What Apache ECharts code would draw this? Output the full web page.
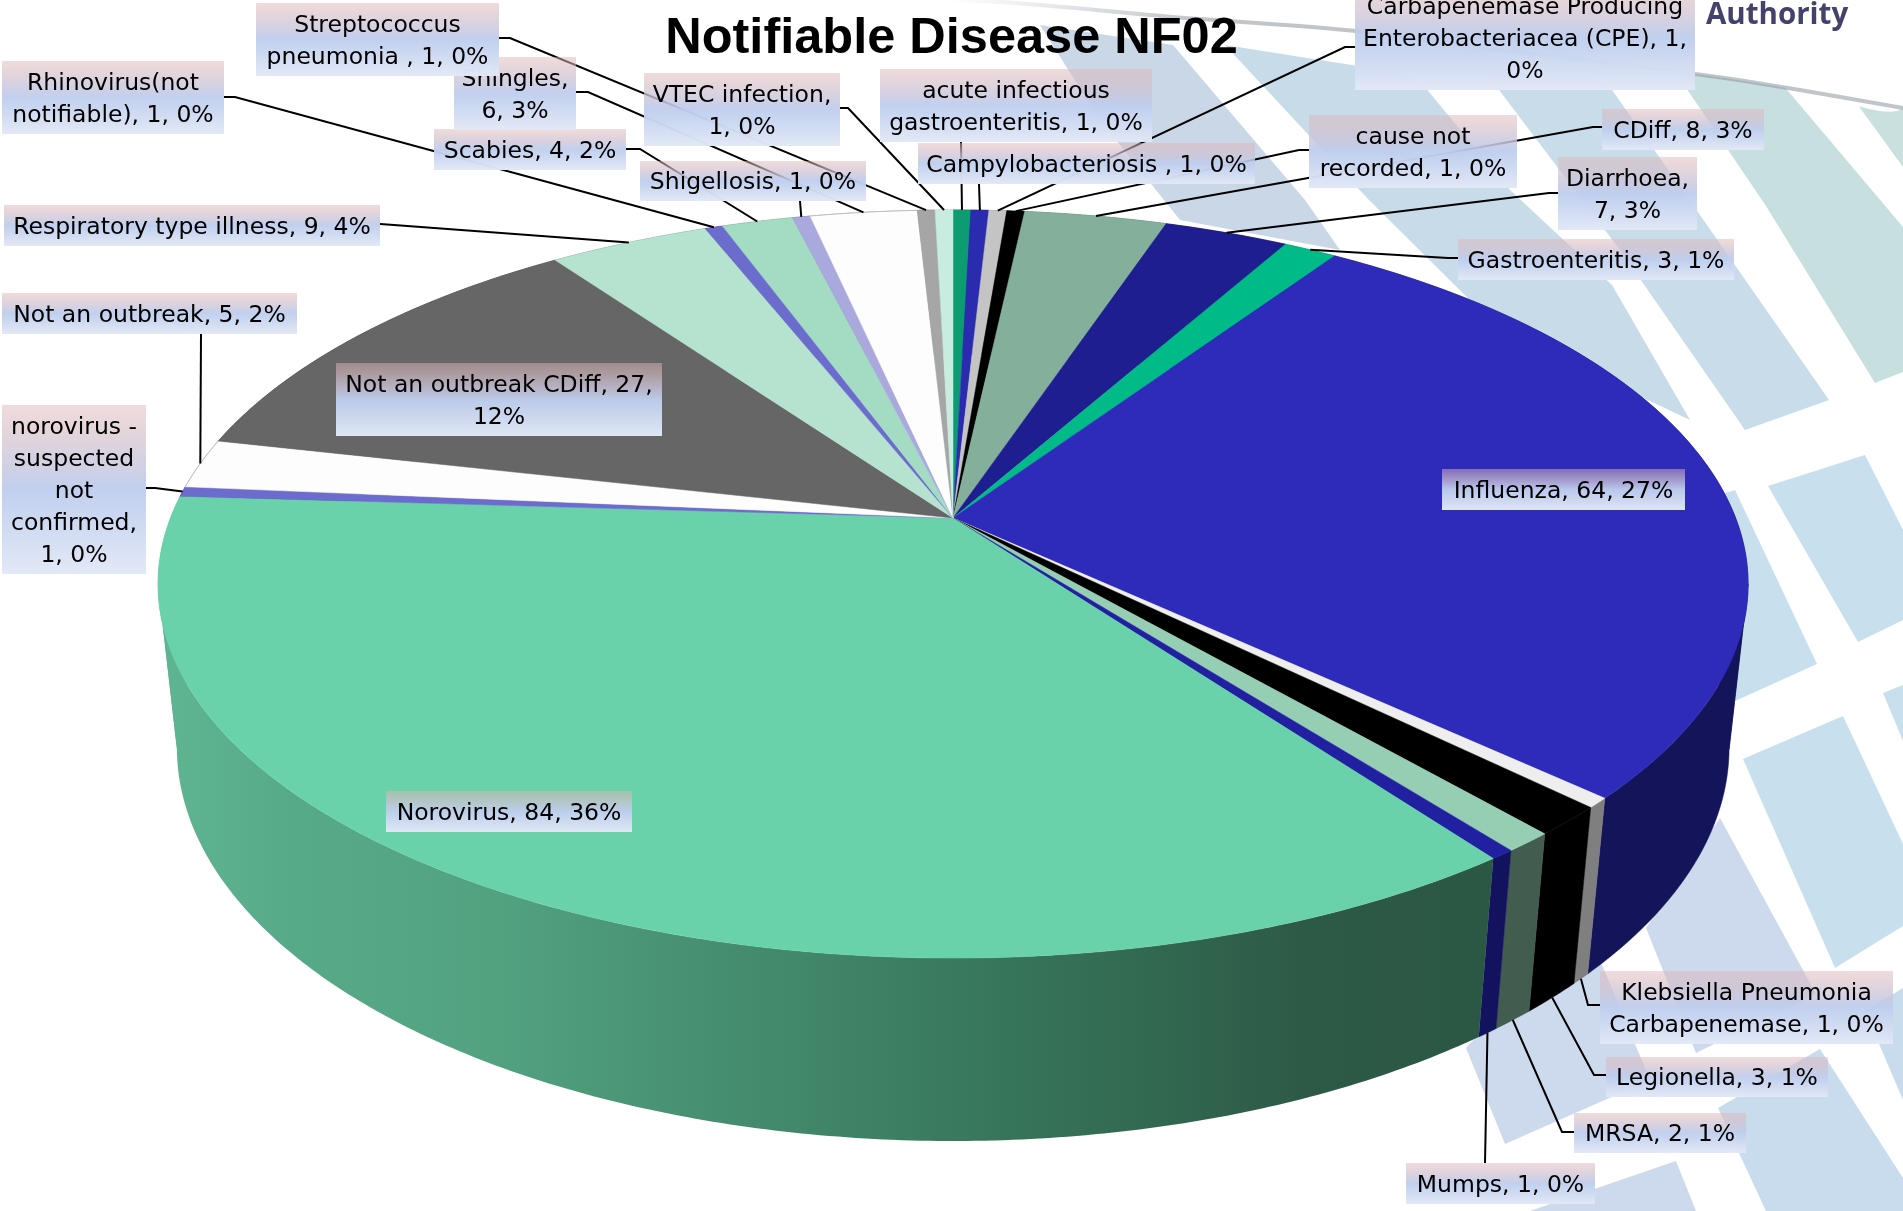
<!DOCTYPE html>
<html>
<head>
<meta charset="utf-8">
<title>Notifiable Disease NF02</title>
<script src="https://cdn.jsdelivr.net/npm/echarts@6/dist/echarts.min.js"></script>
<style>
    html, body { margin: 0; padding: 0; background: #fff; }
    #myChart { width: 1903px; height: 1211px; }
</style>
</head>
<body>
<div id="myChart"></div>
<script>
// values, clockwise from 12 o'clock
var categories = ['acute infectious gastroenteritis', 'Campylobacteriosis ', 'Carbapenemase Producing Enterobacteriacea (CPE)', 'cause not recorded', 'CDiff', 'Diarrhoea', 'Gastroenteritis', 'Influenza', 'Klebsiella Pneumonia Carbapenemase', 'Legionella', 'MRSA', 'Mumps', 'Norovirus', 'norovirus - suspected not confirmed', 'Not an outbreak', 'Not an outbreak CDiff', 'Respiratory type illness', 'Rhinovirus(not notifiable)', 'Scabies', 'Shigellosis', 'Shingles', 'Streptococcus pneumonia ', 'VTEC infection'];
var values = [1, 1, 1, 1, 8, 7, 3, 64, 1, 3, 2, 1, 84, 1, 5, 27, 9, 1, 4, 1, 6, 1, 1];
var title = 'Notifiable Disease NF02';

var topColors = ['#0d9b72', '#2b2bb0', '#c4c4c4', '#000000', '#84b09b', '#1e1e90', '#00bb88', '#2e2bbb', '#eeeeee', '#000000', '#96ceb4', '#2020a0', '#69d2aa', '#6c6cce', '#fdfdfd', '#666666', '#b5e3cf', '#6c6cce', '#a3dcc3', '#a9a9de', '#fdfdfd', '#a6a6a6', '#c8ede0'];
var wallColors = ['#07513b', '#14145c', '#666666', '#000000', '#445c50', '#10104b', '#006147', '#14145a', '#7f7f7f', '#000000', '#435c50', '#12125e', null, '#38386b', '#838383', '#353535', '#5e7669', '#38386b', '#55725f', '#585873', '#838383', '#565656', '#687b74'];

// words per line in each label box
var labelBreaks = [[2, 3], [5], [2, 3, 1], [2, 3], [3], [1, 2], [3], [3], [2, 3], [3], [3], [3], [3], [2, 1, 1, 1, 2], [5], [5, 1], [5], [1, 3], [3], [3], [1, 2], [1, 4], [2, 2]];
// label boxes [x, y, w, h]
var labelBoxes = [[880, 69, 272, 73], [918, 143, 337, 41], [1355, -15, 340, 105], [1309, 115, 208, 73], [1602, 109, 162, 41], [1558, 157, 139, 73], [1458, 239, 276, 41], [1442, 469, 243, 41], [1600, 971, 293, 73], [1606, 1057, 222, 40], [1574, 1113, 172, 40], [1406, 1163, 189, 41], [386, 791, 246, 41], [2, 405, 144, 169], [2, 293, 295, 41], [336, 363, 326, 73], [4, 205, 376, 41], [2, 61, 222, 73], [434, 129, 192, 41], [640, 161, 226, 40], [454, 57, 122, 73], [256, 3, 243, 73], [644, 73, 196, 73]];
// leader line waypoints, from the label to the slice. the last point comes from the slice itself
var leaders = [[[961, 142]], [[979, 184]], [[1355, 47], [1345, 47]], [[1309, 150], [1299, 150]], [[1602, 127], [1593, 127]], [[1558, 193], [1549, 193]], [[1458, 258], [1448, 258]], null, [[1600, 1005], [1588, 1005]], [[1606, 1075], [1594, 1075]], [[1574, 1132], [1562, 1132]], [[1485, 1163]], null, [[146, 488], [155, 488]], [[201, 334]], null, [[380, 224], [394, 225]], [[224, 97], [235, 97]], [[626, 149], [640, 149]], [[800, 201]], [[576, 92], [588, 92]], [[499, 38], [510, 38]], [[840, 108], [848, 108]]];
// these leaders end on the lower rim
var lowerRim = [8, 9, 10, 11];

// perspective of the pie
var cx = 953, apexY = 518, radiusX = 782.6, radiusY = 362.4, tilt = 0.1765;
var vanishY = 7500, horizonY = -1535, depthRatio = 0.9056;

// slide background tiles
var bgTiles = [
    ['#c9d7e6', [[1040, 25], [1173, 45], [1305, 200], [1340, 250], [1180, 220], [1100, 120]]],
    ['#c8dbe9', [[1225, 45], [1415, 75], [1510, 190], [1612, 285], [1690, 420], [1500, 330], [1369, 200]]],
    ['#c8dcea', [[1484, 70], [1605, 80], [1700, 215], [1829, 400], [1745, 430], [1620, 250]]],
    ['#c8dfe0', [[1674, 70], [1783, 85], [1903, 227], [1903, 372], [1875, 383], [1766, 206]]],
    ['#c9e0de', [[1847, 90], [1903, 100], [1903, 167]]],
    ['#c8dfee', [[1768, 486], [1865, 455], [1903, 530], [1903, 620], [1858, 642]]],
    ['#c8dfee', [[1640, 520], [1735, 490], [1817, 664], [1735, 701]]],
    ['#c8dfee', [[1743, 759], [1843, 716], [1903, 844], [1903, 926], [1835, 968]]],
    ['#c8dfee', [[1883, 693], [1903, 685], [1903, 741]]],
    ['#cdd9ec', [[1720, 818], [1816, 994], [1696, 1053], [1646, 928]]],
    ['#cdd9ec', [[1466, 1048], [1505, 1144], [1650, 1080], [1600, 960], [1500, 1010]]],
    ['#c8dcee', [[1718, 1108], [1820, 1049], [1903, 1178], [1903, 1211], [1766, 1211]]],
    ['#cdd9ec', [[1530, 1211], [1676, 1161], [1696, 1211]]],
    ['#c8dcee', [[1865, 1011], [1903, 988], [1903, 1100]]]
];
var swoosh = [[900, 0], [1000, 2], [1173, 17], [1345, 30], [1500, 50], [1703, 75], [1800, 90], [1903, 108]];

var total = values.reduce(function (a, b) { return a + b; }, 0);
// where the rim turns from the back of the disc to the front, seen from the camera
var turnRight = Math.PI - Math.acos(tilt);
var turnLeft = Math.PI + Math.acos(tilt);

function sliceAngles(i) {
    var before = 0;
    for (var k = 0; k < i; k++) {
        before += values[k];
    }
    return [before / total * Math.PI * 2, (before + values[i]) / total * Math.PI * 2];
}

function topPoint(angle) {
    var u = Math.sin(angle), v = -Math.cos(angle);
    var w = 1 - tilt * v;
    return [cx + radiusX * u / w, apexY + radiusY * v / w];
}

// same rim point on the bottom plane of the disc
function bottomPoint(angle) {
    var p = topPoint(angle);
    var q = depthRatio * (p[1] - vanishY) / (p[1] - horizonY);
    var y = (vanishY - q * horizonY) / (1 - q);
    var t = (y - vanishY) / (p[1] - vanishY);
    return [cx + (p[0] - cx) * t, y];
}

function rimPoints(from, to, fn) {
    var steps = Math.max(2, Math.ceil((to - from) / 0.01));
    var pts = [];
    for (var s = 0; s <= steps; s++) {
        pts.push(fn(from + (to - from) * s / steps));
    }
    return pts;
}

var noroWall = new echarts.graphic.LinearGradient(158, 0, 1491, 0, [
    { offset: 0, color: '#5fb592' },
    { offset: 0.1, color: '#57aa88' },
    { offset: 0.25, color: '#52a280' },
    { offset: 0.63, color: '#37765b' },
    { offset: 0.86, color: '#2d5a46' },
    { offset: 1, color: '#2b5745' }
], true);

function renderWall(params) {
    var i = params.dataIndex;
    var a = sliceAngles(i);
    // cut at the turning points, a folded polygon cancels itself out when it is filled
    var cuts = [a[0]];
    [turnRight, turnLeft].forEach(function (c) {
        if (c > a[0] && c < a[1]) {
            cuts.push(c);
        }
    });
    cuts.push(a[1]);
    var children = [];
    for (var n = 0; n < cuts.length - 1; n++) {
        children.push({
            type: 'polygon',
            shape: { points: rimPoints(cuts[n], cuts[n + 1], topPoint).concat(rimPoints(cuts[n], cuts[n + 1], bottomPoint).reverse()) },
            style: { fill: wallColors[i] || noroWall, stroke: wallColors[i] || null, lineWidth: 0.5 }
        });
    }
    return { type: 'group', children: children };
}

function renderTop(params) {
    var i = params.dataIndex;
    var a = sliceAngles(i);
    var rim = rimPoints(a[0], a[1], topPoint);
    var children = [{
        type: 'polygon',
        shape: { points: [[cx, apexY]].concat(rim) },
        style: { fill: topColors[i], stroke: topColors[i], lineWidth: 0.5 }
    }];
    // white slices need their edge against the white slide
    if (topColors[i] === '#fdfdfd') {
        children.push({
            type: 'polyline',
            shape: { points: rim },
            style: { fill: null, stroke: '#bdbdbd', lineWidth: 1 }
        });
    }
    return { type: 'group', children: children };
}

function renderLeader(params) {
    var i = params.dataIndex;
    if (!leaders[i]) {
        return null;
    }
    var a = sliceAngles(i);
    var mid = (a[0] + a[1]) / 2;
    var end = lowerRim.indexOf(i) >= 0 ? bottomPoint(mid) : topPoint(mid);
    return {
        type: 'polyline',
        shape: { points: leaders[i].concat([end]) },
        style: { fill: null, stroke: '#000', lineWidth: 2 }
    };
}

function labelText(i) {
    var pct = Math.round(values[i] / total * 100);
    var words = (categories[i] + ', ' + values[i] + ', ' + pct + '%').split(' ');
    var lines = [], at = 0;
    labelBreaks[i].forEach(function (n) {
        lines.push(words.slice(at, at + n).join(' '));
        at += n;
    });
    return lines.join('\n');
}

function renderLabel(params) {
    var i = params.dataIndex;
    var b = labelBoxes[i];
    return {
        type: 'group',
        children: [{
            type: 'rect',
            shape: { x: b[0], y: b[1], width: b[2], height: b[3] },
            style: {
                fill: new echarts.graphic.LinearGradient(0, 0, 0, 1, [
                    { offset: 0, color: 'rgba(223,181,181,0.48)' },
                    { offset: 0.5, color: 'rgba(190,206,238,0.96)' },
                    { offset: 1, color: 'rgba(226,232,246,0.98)' }
                ])
            }
        }, {
            type: 'text',
            style: {
                x: b[0] + b[2] / 2,
                y: b[1] + b[3] / 2 + 2,
                text: labelText(i),
                align: 'center',
                verticalAlign: 'middle',
                font: '23.5px "DejaVu Sans"',
                lineHeight: 32,
                fill: '#000'
            }
        }]
    };
}

function customSeries(renderer) {
    return {
        type: 'custom',
        coordinateSystem: 'none',
        silent: true,
        animation: false,
        clip: false,
        renderItem: renderer,
        data: values
    };
}

var background = bgTiles.map(function (t) {
    return { type: 'polygon', shape: { points: t[1] }, style: { fill: t[0] } };
});
background.push({
    type: 'polygon',
    shape: { points: swoosh.concat([[1903, 0]]), smooth: 0.3 },
    style: { fill: '#ffffff' }
});
background.push({
    type: 'polyline',
    shape: { points: swoosh, smooth: 0.3 },
    style: {
        fill: null,
        stroke: new echarts.graphic.LinearGradient(950, 0, 1200, 0, [
            { offset: 0, color: 'rgba(130,140,150,0)' },
            { offset: 1, color: 'rgba(130,140,150,0.5)' }
        ], true),
        lineWidth: 4
    }
});
background.push({
    type: 'text',
    style: { x: 1706, y: 1, text: 'Authority', font: 'bold 29.5px "Open Sans"', fill: '#2f2d5b', opacity: 0.9 }
});

var myChart = echarts.init(document.getElementById('myChart'), null, { renderer: 'canvas' });
myChart.setOption({
    backgroundColor: '#fff',
    animation: false,
    title: {
        text: title,
        left: 'center',
        top: 9,
        textStyle: { fontFamily: 'Liberation Sans', fontWeight: 'bold', fontSize: 50.5, color: '#000' }
    },
    graphic: { elements: background },
    series: [
        customSeries(renderWall),
        customSeries(renderTop),
        customSeries(renderLeader),
        customSeries(renderLabel)
    ]
});
</script>
</body>
</html>
